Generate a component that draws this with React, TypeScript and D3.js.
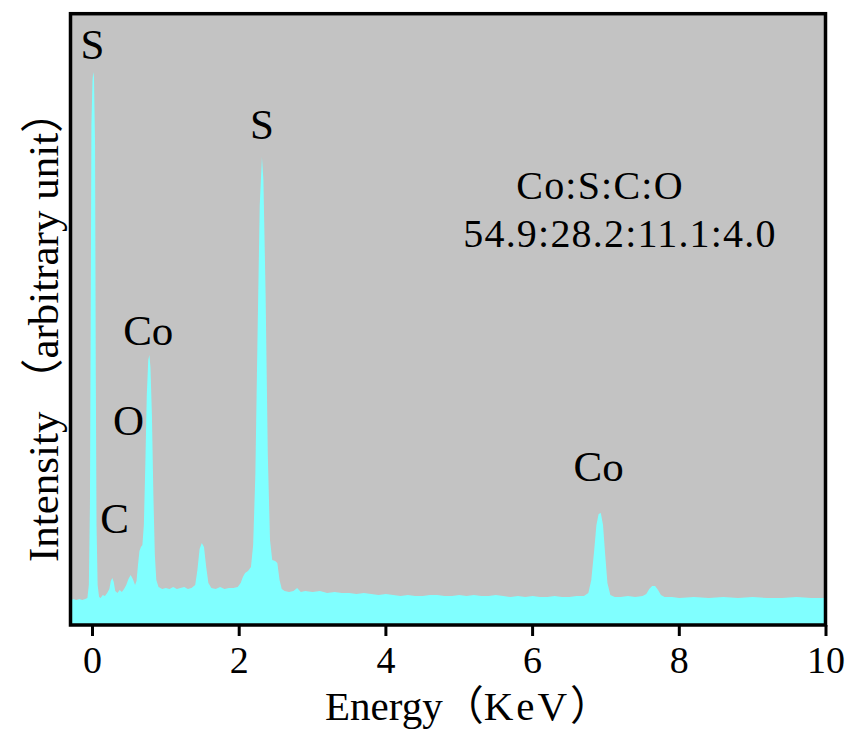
import React from 'react';
import * as d3 from 'd3';

// EDS spectrum, [energy keV, counts]
const spectrum: [number, number][] = [
  [-0.3, 25], [-0.26, 26], [-0.22, 25], [-0.18, 26], [-0.14, 25], [-0.1, 26], [-0.07, 27],
  [-0.05, 40], [-0.035, 120], [-0.025, 300], [-0.015, 500], [0.0, 545], [0.01, 553], [0.02, 548],
  [0.035, 480], [0.045, 250], [0.055, 100], [0.07, 40], [0.09, 28], [0.11, 27], [0.14, 30],
  [0.17, 29], [0.2, 32], [0.23, 36], [0.25, 44], [0.27, 47], [0.29, 43], [0.31, 34], [0.34, 32],
  [0.37, 35], [0.4, 33], [0.43, 36], [0.46, 40], [0.49, 46], [0.52, 50], [0.55, 46], [0.58, 40],
  [0.6, 44], [0.62, 60], [0.64, 74], [0.66, 78], [0.68, 80], [0.7, 100], [0.72, 160], [0.74, 230],
  [0.76, 265], [0.775, 270], [0.79, 258], [0.81, 210], [0.83, 130], [0.85, 70], [0.87, 45],
  [0.9, 38], [0.95, 36], [1.0, 37], [1.05, 36], [1.1, 38], [1.15, 36], [1.2, 37], [1.25, 38],
  [1.3, 36], [1.35, 37], [1.4, 40], [1.43, 55], [1.46, 76], [1.49, 82], [1.52, 78], [1.55, 58],
  [1.58, 42], [1.62, 37], [1.68, 36], [1.74, 38], [1.8, 36], [1.86, 37], [1.92, 37], [1.98, 38],
  [2.02, 42], [2.05, 48], [2.08, 52], [2.12, 54], [2.16, 58], [2.19, 80], [2.22, 150], [2.25, 290],
  [2.28, 420], [2.31, 468], [2.33, 445], [2.36, 330], [2.39, 170], [2.42, 85], [2.45, 65],
  [2.49, 64], [2.52, 62], [2.55, 45], [2.58, 36], [2.62, 34], [2.68, 33], [2.74, 34], [2.79, 37],
  [2.84, 33], [2.9, 34], [3.0, 33], [3.1, 34], [3.2, 32], [3.3, 33], [3.4, 32], [3.5, 32],
  [3.6, 31], [3.7, 32], [3.8, 31], [3.9, 30], [4.0, 31], [4.1, 30], [4.2, 29], [4.3, 30],
  [4.4, 29], [4.5, 29], [4.6, 30], [4.7, 30], [4.8, 29], [4.9, 29], [5.0, 30], [5.1, 29],
  [5.2, 30], [5.3, 29], [5.4, 29], [5.5, 30], [5.6, 29], [5.7, 28], [5.8, 29], [5.9, 28],
  [6.0, 29], [6.1, 28], [6.2, 28], [6.3, 29], [6.4, 28], [6.5, 28], [6.6, 29], [6.7, 29],
  [6.76, 32], [6.8, 45], [6.84, 75], [6.87, 100], [6.9, 111], [6.93, 112], [6.96, 100], [6.99, 70],
  [7.02, 42], [7.06, 30], [7.12, 28], [7.2, 28], [7.3, 29], [7.4, 28], [7.5, 29], [7.55, 31],
  [7.59, 36], [7.63, 39], [7.67, 39], [7.71, 35], [7.75, 30], [7.8, 28], [7.9, 28], [8.0, 27],
  [8.2, 28], [8.4, 27], [8.6, 28], [8.8, 27], [9.0, 28], [9.2, 27], [9.4, 27], [9.6, 28],
  [9.8, 27], [10.0, 27],
];

const xTicks = [0, 2, 4, 6, 8, 10];

// peak labels: element, energy of label centre, count level of baseline
const peakLabels: { text: string; x: number; y: number }[] = [
  { text: 'S', x: 0.0, y: 566 },
  { text: 'S', x: 2.31, y: 486 },
  { text: 'Co', x: 0.76, y: 280 },
  { text: 'O', x: 0.49, y: 190 },
  { text: 'C', x: 0.3, y: 92 },
  { text: 'Co', x: 6.9, y: 144 },
];

const ratioLines = ['Co:S:C:O', '54.9:28.2:11.1:4.0'];

const W = 853;
const H = 731;
const plot = { left: 70.5, top: 13.7, right: 825.5, bottom: 625 };
const font = "'Liberation Serif', 'Times New Roman', 'Noto Sans CJK SC', serif";

export default function App() {
  const x = d3.scaleLinear().domain([-0.3, 10]).range([plot.left, 826]);
  const y = d3.scaleLinear().domain([0, 611.3]).range([plot.bottom, plot.top]);

  const area = d3
    .area<[number, number]>()
    .x((d) => x(d[0]))
    .y0(plot.bottom)
    .y1((d) => y(d[1]))
    .curve(d3.curveLinear);

  return (
    <div style={{ position: 'absolute', left: 0, top: 0 }}>
      <svg width={W} height={H} style={{ display: 'block', background: '#fff' }}>
        <defs>
          <clipPath id="plotClip">
            <rect
              x={plot.left}
              y={plot.top}
              width={plot.right - plot.left}
              height={plot.bottom - plot.top}
            />
          </clipPath>
        </defs>

        <rect
          x={plot.left}
          y={plot.top}
          width={plot.right - plot.left}
          height={plot.bottom - plot.top}
          fill="#c3c3c3"
        />
        <path d={area(spectrum) || ''} fill="#80ffff" clipPath="url(#plotClip)" />

        {/* frame */}
        <rect
          x={plot.left}
          y={plot.top}
          width={plot.right - plot.left}
          height={plot.bottom - plot.top}
          fill="none"
          stroke="#000"
          strokeWidth={3.5}
        />

        {/* x ticks */}
        {xTicks.map((t) => (
          <g key={t}>
            <line
              x1={x(t)}
              x2={x(t)}
              y1={plot.bottom}
              y2={plot.bottom + 11}
              stroke="#000"
              strokeWidth={3}
            />
            <text
              x={x(t)}
              y={673}
              textAnchor="middle"
              fontFamily={font}
              fontSize={38}
              fill="#000"
            >
              {t}
            </text>
          </g>
        ))}

        <text x={325} y={720} fontFamily={font} fontSize={41} fill="#000">
          Energy（<tspan letterSpacing={3}>KeV</tspan>）
        </text>

        <text
          transform={`translate(58, 326) rotate(-90)`}
          textAnchor="middle"
          fontFamily={font}
          fontSize={43}
          fill="#000"
        >
          Intensity<tspan dx={10}>（arbitrary unit）</tspan>
        </text>

        {peakLabels.map((p, i) => (
          <text
            key={i}
            x={x(p.x)}
            y={y(p.y)}
            textAnchor="middle"
            fontFamily={font}
            fontSize={43}
            fill="#000"
          >
            {p.text}
          </text>
        ))}

        <text
          x={600}
          y={199}
          textAnchor="middle"
          fontFamily={font}
          fontSize={40}
          letterSpacing={1.2}
          fill="#000"
        >
          {ratioLines[0]}
        </text>
        <text
          x={620}
          y={247}
          textAnchor="middle"
          fontFamily={font}
          fontSize={40}
          letterSpacing={1.2}
          fill="#000"
        >
          {ratioLines[1]}
        </text>
      </svg>
    </div>
  );
}
